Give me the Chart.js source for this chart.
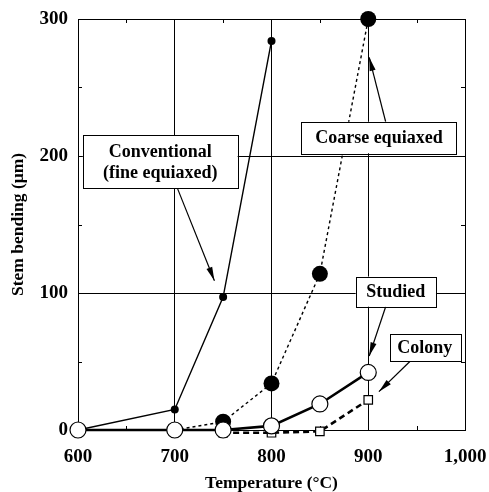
<!DOCTYPE html>
<html>
<head>
<meta charset="utf-8">
<script src="https://cdn.jsdelivr.net/npm/chart.js@4/dist/chart.umd.min.js"></script>
<style>
  html, body { margin: 0; padding: 0; background: #fff; }
  #wrap { width: 489px; height: 492px; }
</style>
</head>
<body>
<div id="wrap"><canvas id="chart-line"></canvas></div>
<script>
/* eslint-disable no-undef */
const convTemps = [600, 700, 750, 800]
const convBend = [0, 15, 97, 284]
const coarseTemps = [700, 750, 800, 850, 900]
const coarseBend = [0, 6, 34, 114, 300]
const studiedTemps = [600, 700, 750, 800, 850, 900]
const studiedBend = [0, 0, 0, 3, 19, 42]
const colonyTemps = [750, 800, 850, 900]
const colonyBend = [-2, -2, -1, 22]
const xTicks = [600, 700, 800, 900, 1000]
const yTicks = [0, 100, 200, 300]

// callout boxes, in data units: box [x1, x2, y top, y bottom], arrow [from x, from y, to x, to y]
const callouts = [
  { lines: ['Conventional', '(fine equiaxed)'], box: [605, 765, 215, 176], arrow: [703, 176, 741, 109] },
  { lines: ['Coarse equiaxed'], box: [831, 991, 225, 202], arrow: [918, 225, 901, 272] },
  { lines: ['Studied'], box: [887, 970, 112, 90], arrow: [918, 90, 901, 54] },
  { lines: ['Colony'], box: [922, 995, 70, 50], arrow: [943, 50, 911, 28] }
]

const pts = (xs, ys) => xs.map((x, i) => ({ x: x, y: ys[i] }))
const serif = '"Liberation Serif", "Times New Roman", serif'

const framePlugin = {
  id: 'frame',
  beforeDatasetsDraw (chart) {
    const { ctx, chartArea: a, scales } = chart
    ctx.save()
    ctx.strokeStyle = '#000'
    ctx.lineWidth = 1
    ctx.strokeRect(a.left + 0.5, a.top + 0.5, a.right - a.left, a.bottom - a.top)
    // minor ticks at 50s
    ctx.beginPath()
    for (let v = 50; v < 300; v += 100) {
      const y = Math.round(scales.y.getPixelForValue(v)) + 0.5
      ctx.moveTo(a.left, y); ctx.lineTo(a.left + 4, y)
      ctx.moveTo(a.right, y); ctx.lineTo(a.right - 4, y)
    }
    for (let v = 650; v < 1000; v += 100) {
      const x = Math.round(scales.x.getPixelForValue(v)) + 0.5
      ctx.moveTo(x, a.bottom); ctx.lineTo(x, a.bottom - 4)
      ctx.moveTo(x, a.top); ctx.lineTo(x, a.top + 4)
    }
    ctx.stroke()
    ctx.restore()
  },
  afterDatasetsDraw (chart) {
    const { ctx, scales } = chart
    const px = v => scales.x.getPixelForValue(v)
    const py = v => scales.y.getPixelForValue(v)
    ctx.save()
    ctx.font = 'bold 18px ' + serif
    ctx.textAlign = 'center'
    ctx.textBaseline = 'middle'
    callouts.forEach(c => {
      const x1 = px(c.box[0]); const x2 = px(c.box[1])
      const y1 = py(c.box[2]); const y2 = py(c.box[3])
      // arrow
      const ax = px(c.arrow[0]); const ay = py(c.arrow[1])
      const bx = px(c.arrow[2]); const by = py(c.arrow[3])
      ctx.strokeStyle = '#000'
      ctx.lineWidth = 1.2
      ctx.beginPath(); ctx.moveTo(ax, ay); ctx.lineTo(bx, by); ctx.stroke()
      const ang = Math.atan2(by - ay, bx - ax)
      ctx.fillStyle = '#000'
      ctx.beginPath()
      ctx.moveTo(bx, by)
      ctx.lineTo(bx - 14 * Math.cos(ang - 0.22), by - 14 * Math.sin(ang - 0.22))
      ctx.lineTo(bx - 14 * Math.cos(ang + 0.22), by - 14 * Math.sin(ang + 0.22))
      ctx.closePath(); ctx.fill()
      // box
      ctx.fillStyle = '#fff'
      ctx.fillRect(x1, y1, x2 - x1, y2 - y1)
      ctx.lineWidth = 1
      ctx.strokeRect(Math.round(x1) + 0.5, Math.round(y1) + 0.5, Math.round(x2 - x1), Math.round(y2 - y1))
      ctx.fillStyle = '#000'
      const cy = (y1 + y2) / 2 + 1
      const lh = 21
      c.lines.forEach((t, i) => {
        ctx.fillText(t, (x1 + x2) / 2, cy + (i - (c.lines.length - 1) / 2) * lh)
      })
    })
    ctx.restore()
  }
}

const chartElement = document.getElementById('chart-line').getContext('2d')

const bendingChart = new Chart(chartElement, {
  type: 'line',
  data: {
    datasets: [
      {
        label: 'Conventional (fine equiaxed)',
        data: pts(convTemps, convBend),
        borderColor: '#000',
        borderWidth: 1.4,
        backgroundColor: '#000',
        pointRadius: 4,
        pointBorderWidth: 0,
        order: 2
      },
      {
        label: 'Coarse equiaxed',
        data: pts(coarseTemps, coarseBend),
        borderColor: '#000',
        borderWidth: 1.4,
        borderDash: [3, 3],
        backgroundColor: '#000',
        pointRadius: 8,
        pointBorderWidth: 0,
        order: 4
      },
      {
        label: 'Studied',
        data: pts(studiedTemps, studiedBend),
        borderColor: '#000',
        borderWidth: 2.6,
        backgroundColor: '#fff',
        pointRadius: 8,
        pointBorderWidth: 1.2,
        order: 1
      },
      {
        label: 'Colony',
        data: pts(colonyTemps, colonyBend),
        borderColor: '#000',
        borderWidth: 2.6,
        borderDash: [6, 4],
        backgroundColor: '#fff',
        pointStyle: 'rect',
        pointRadius: 6,
        pointBorderWidth: 1.2,
        order: 3
      }
    ]
  },
  options: {
    responsive: true,
    maintainAspectRatio: false,
    animation: false,
    clip: false,
    layout: { padding: { left: 0, right: 24, top: 19, bottom: 0 } },
    plugins: {
      legend: { display: false },
      tooltip: { enabled: false }
    },
    scales: {
      x: {
        type: 'linear',
        min: 600,
        max: 1000,
        afterBuildTicks: s => { s.ticks = xTicks.map(v => ({ value: v })) },
        ticks: {
          color: '#000',
          padding: 16,
          font: { family: serif, size: 19, weight: 'bold' },
          callback: v => v.toLocaleString('en-US')
        },
        grid: { color: '#000', lineWidth: 1, drawTicks: false },
        border: { color: '#000', width: 1 },
        title: {
          display: true,
          text: 'Temperature (°C)',
          color: '#000',
          font: { family: serif, size: 17.5, weight: 'bold', lineHeight: 1 },
          padding: { top: 5, bottom: 0 }
        },
        afterFit: s => { s.height = 62; s.paddingLeft = 0; s.paddingRight = 0 }
      },
      y: {
        min: 0,
        max: 300,
        afterBuildTicks: s => { s.ticks = yTicks.map(v => ({ value: v })) },
        ticks: {
          color: '#000',
          padding: 10,
          font: { family: serif, size: 19, weight: 'bold' }
        },
        grid: { color: '#000', lineWidth: 1, drawTicks: false },
        border: { color: '#000', width: 1 },
        title: {
          display: true,
          text: 'Stem bending (μm)',
          color: '#000',
          font: { family: serif, size: 17.5, weight: 'bold' },
          padding: { top: 8, bottom: 8 }
        },
        afterFit: s => { s.width = 78; s.paddingTop = 0; s.paddingBottom = 0 }
      }
    }
  },
  plugins: [framePlugin]
})
</script>
</body>
</html>
